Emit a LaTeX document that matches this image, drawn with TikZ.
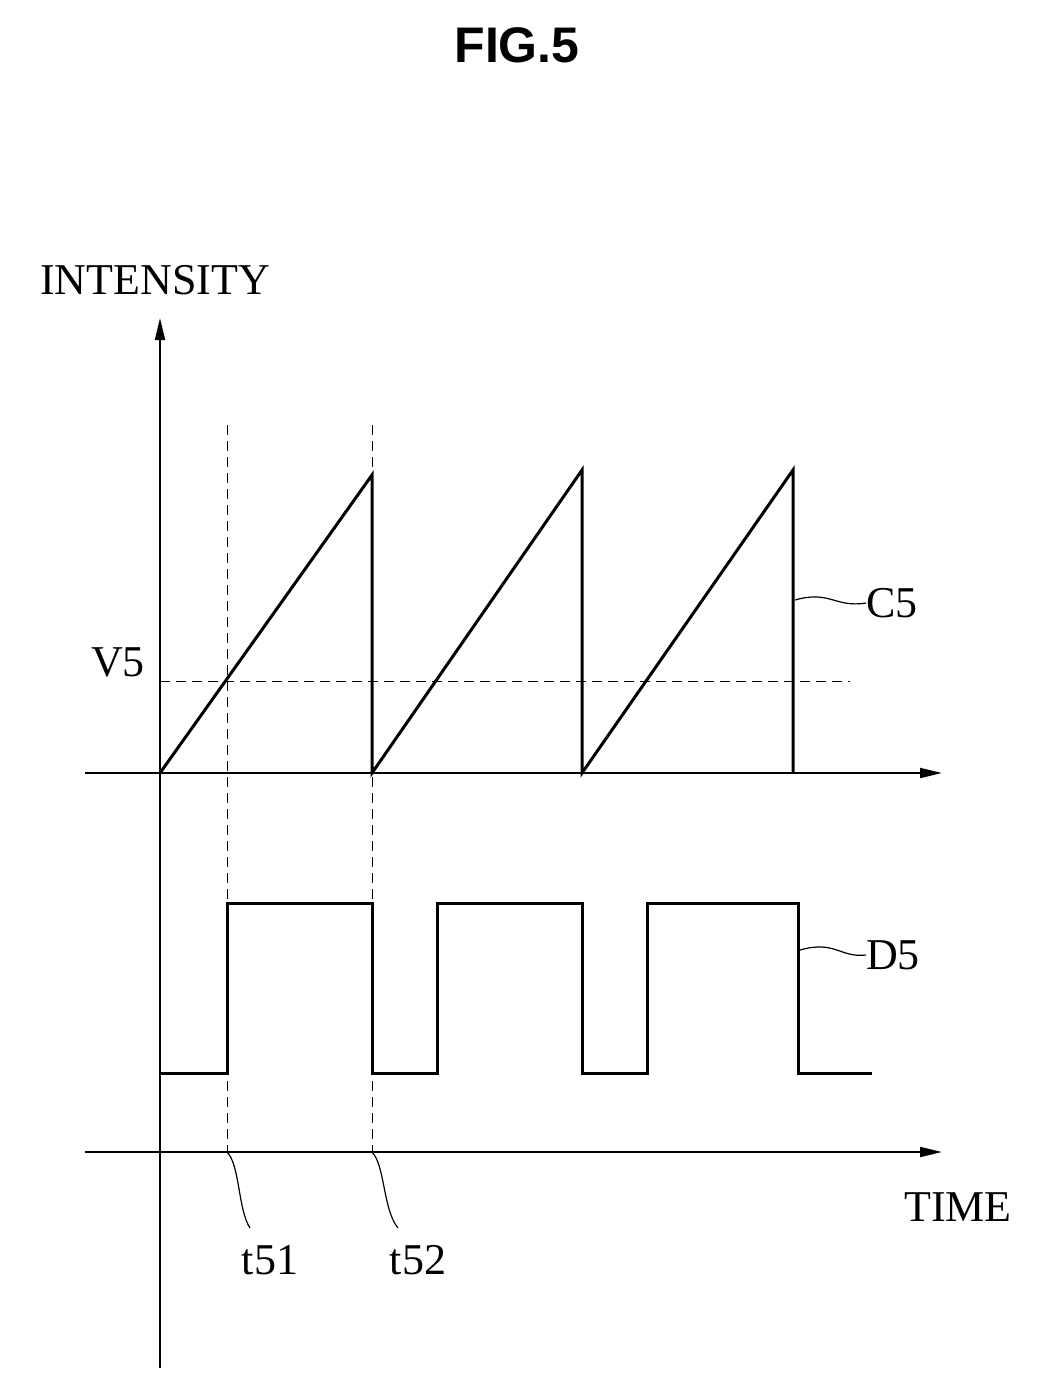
\documentclass[tikz,border=0pt]{standalone}
\usepackage{fontspec}
\setmainfont{Liberation Serif}
\setsansfont{Liberation Sans}
\usetikzlibrary{arrows.meta}
\begin{document}
\begin{tikzpicture}[x=1pt,y=-1pt,
  axis/.style={line width=2pt,-{Triangle[length=22pt,width=10pt]}},
  sig/.style={line width=3pt,line join=miter},
  guide/.style={line width=1pt,dash pattern=on 10pt off 6pt},
  lead/.style={line width=1.2pt},
  lbl/.style={font=\fontsize{44}{48}\selectfont,inner sep=0pt}]
\useasboundingbox (0,0) rectangle (1043,1390);
\node[font=\sffamily\bfseries\fontsize{50}{56}\selectfont] (title) at (517,45) {FIG.5};
\coordinate (yb) at (160,1368); \coordinate (yt) at (160,318);
\draw[axis] (yb) -- (yt);
\coordinate (a1) at (85,773); \coordinate (a2) at (942,773);
\draw[axis] (a1) -- (a2);
\coordinate (b1) at (85,1152); \coordinate (b2) at (942,1152);
\draw[axis] (b1) -- (b2);
\node[lbl] (int) at (155,280) {INTENSITY};
\node[lbl] (time) at (958,1207) {TIME};
\node[lbl] (v5) at (118,662) {V5};
\node[lbl,anchor=west] (c5) at (866,603) {C5};
\node[lbl,anchor=west] (d5) at (866,955) {D5};
\node[lbl] (t51) at (270,1260) {t51};
\node[lbl] (t52) at (418,1260) {t52};
\draw[sig] (160,773) -- (372,475) -- (372,773) -- (582,470) -- (582,773) -- (793,470) -- (793,773);
\draw[sig] (160,1073) -- (227,1073) -- (227,903) -- (372,903) -- (372,1073) -- (437,1073) -- (437,903) -- (582,903) -- (582,1073) -- (647,1073) -- (647,903) -- (798,903) -- (798,1073) -- (872,1073);
\draw[guide] (227,425) -- (227,1152);
\draw[guide] (372,425) -- (372,1152);
\draw[guide] (160,681) -- (850,681);
\draw[lead] (795,600) .. controls (830,590) and (835,608) .. (c5.west);
\draw[lead] (800,950) .. controls (835,940) and (840,958) .. (d5.west);
\draw[lead] (227,1152) .. controls (240,1165) and (238,1210) .. (250,1228);
\draw[lead] (372,1152) .. controls (385,1165) and (383,1210) .. (398,1228);
\end{tikzpicture}
\end{document}
